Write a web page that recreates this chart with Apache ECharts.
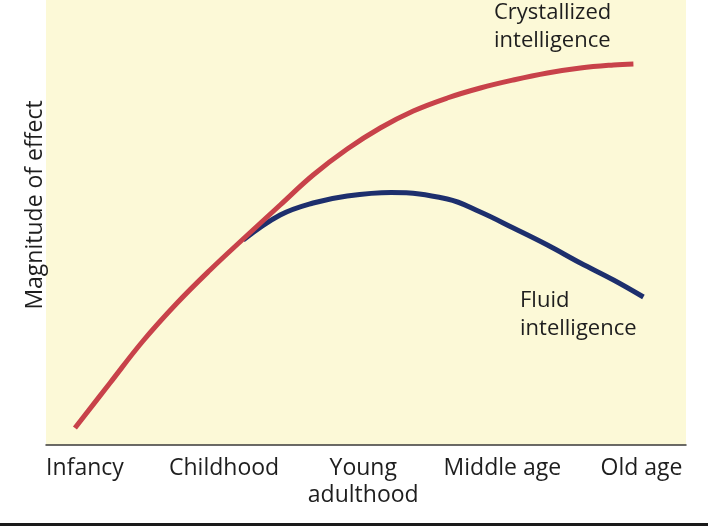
<!DOCTYPE html>
<html><head><meta charset="utf-8">
<script src="https://cdn.jsdelivr.net/npm/echarts@6/dist/echarts.min.js"></script>
<style>html,body{margin:0;padding:0;background:#fff}#c{width:708px;height:526px}</style>
</head><body><div id="c"></div>
<script>
// Life stages (category positions on the x axis: 0..4)
var stages = ['Infancy', 'Childhood', 'Young\nadulthood', 'Middle age', 'Old age'];
var stagePos = [0, 1, 2, 3, 4];
// Crystallized intelligence: stage position and magnitude
var crystallizedX = [-0.072, 0.18, 0.417, 0.662, 0.899, 1.137, 1.403, 1.64, 1.885, 2.122, 2.36, 2.604, 2.842, 3.079, 3.324, 3.561, 3.799, 3.942];
var crystallizedY = [17, 62, 104, 142, 175, 206, 240, 270, 296, 317, 334, 347, 357, 365, 372, 377, 380, 381];
// Fluid intelligence
var fluidX = [1.137, 1.403, 1.64, 1.885, 2.2, 2.604, 2.842, 3.079, 3.324, 3.561, 3.799, 4.014];
var fluidY = [205, 230, 242, 249, 252.5, 246, 233, 217, 200, 182, 165, 148];

function pairs(xs, ys){ return xs.map(function(x,i){ return [x, ys[i]]; }); }

var font = '"Open Sans", "Noto Sans", sans-serif';
var ink = '#1e1e1e';
var chart = echarts.init(document.getElementById('c'));
chart.setOption({
  animation: false,
  backgroundColor: '#ffffff',
  grid: { left: 46, right: 22, top: 0, bottom: 81, show: true, backgroundColor: '#fcf9d7', borderWidth: 0 },
  xAxis: {
    type: 'value', min: -0.28, max: 4.32,
    splitLine: { show: false },
    axisLine: { show: true, lineStyle: { color: '#3a3a3a', width: 1.5 } },
    axisTick: { show: false },
    axisLabel: {
      customValues: stagePos,
      margin: 10,
      color: ink, fontSize: 23, fontFamily: font, lineHeight: 27,
      verticalAlign: 'top',
      formatter: function(v){ var i = Math.round(v); return stages[i] || ''; }
    }
  },
  yAxis: {
    type: 'value', min: 0, max: 445,
    axisLine: { show: false }, axisTick: { show: false }, axisLabel: { show: false },
    splitLine: { show: false }
  },
  series: [
    { name: 'Fluid intelligence', type: 'line', smooth: 0.4, showSymbol: false, z: 2,
      lineStyle: { color: '#1d2f6d', width: 5, cap: 'butt' },
      data: pairs(fluidX, fluidY) },
    { name: 'Crystallized intelligence', type: 'line', smooth: 0.4, showSymbol: false, z: 3,
      lineStyle: { color: '#c8424a', width: 5, cap: 'butt' },
      data: pairs(crystallizedX, crystallizedY) }
  ],
  graphic: [
    { type: 'text', x: 35, y: 205, rotation: Math.PI / 2,
      style: { text: 'Magnitude of effect', fill: ink, font: '23px ' + font, align: 'center', verticalAlign: 'middle' } },
    { type: 'text', left: 494, top: -1, style: { text: 'Crystallized\nintelligence', fill: ink, font: '22px ' + font, lineHeight: 28 } },
    { type: 'text', left: 520, top: 287, style: { text: 'Fluid\nintelligence', fill: ink, font: '22px ' + font, lineHeight: 28 } },
    { type: 'rect', shape: { x: 0, y: 523, width: 708, height: 3 }, style: { fill: '#1a1a1a' } }
  ]
});
</script></body></html>
